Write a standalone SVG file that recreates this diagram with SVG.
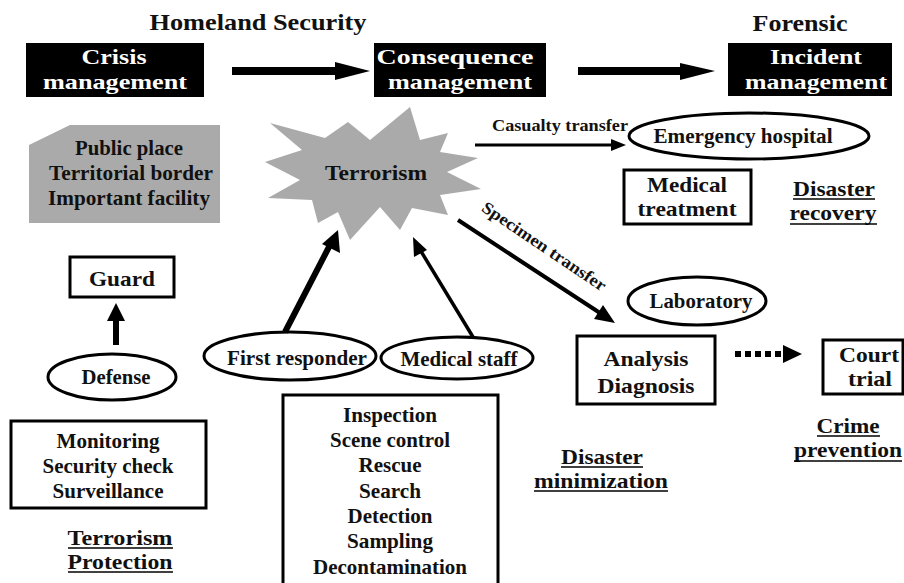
<svg xmlns="http://www.w3.org/2000/svg" width="904" height="583" viewBox="0 0 904 583">
<style>
text{font-family:"Liberation Serif","Times New Roman",serif;font-weight:bold;fill:#111;text-anchor:middle}
.w{fill:#fff}
.blk{fill:#000}
.box{fill:#fff;stroke:#000;stroke-width:3}
.ell{fill:#fff;stroke:#000;stroke-width:3}
.gray{fill:#aaaaaa}
.ul{stroke:#000;stroke-width:1.6}
.ln{stroke:#000;fill:none}
.big{font-size:22px}
.t21{font-size:21px}
.t22{font-size:22px}
.t18{font-size:17px}
</style>
<rect width="904" height="583" fill="#fff"/>

<text x="258" y="30" font-size="24" textLength="217" lengthAdjust="spacingAndGlyphs">Homeland Security</text>
<text x="800" y="31" font-size="24" textLength="95" lengthAdjust="spacingAndGlyphs">Forensic</text>

<g id="crisis">
<rect class="blk" x="26" y="43" width="178" height="54"/>
<text class="w big" x="114" y="64" textLength="65" lengthAdjust="spacingAndGlyphs">Crisis</text>
<text class="w big" x="115" y="89" textLength="144" lengthAdjust="spacingAndGlyphs">management</text>
</g>
<g id="consequence">
<rect class="blk" x="374" y="43" width="172" height="54"/>
<text class="w big" x="455" y="64" textLength="157" lengthAdjust="spacingAndGlyphs">Consequence</text>
<text class="w big" x="460" y="89" textLength="144" lengthAdjust="spacingAndGlyphs">management</text>
</g>
<g id="incident">
<rect class="blk" x="728" y="43" width="164" height="53"/>
<text class="w big" x="816" y="64" textLength="92" lengthAdjust="spacingAndGlyphs">Incident</text>
<text class="w big" x="816" y="89" textLength="142" lengthAdjust="spacingAndGlyphs">management</text>
</g>

<g id="places">
<polygon class="gray" points="29,145 70,125 220,125 220,223 29,223"/>
<text class="t22" x="129" y="155" textLength="108" lengthAdjust="spacingAndGlyphs">Public place</text>
<text class="t22" x="131" y="180" textLength="164" lengthAdjust="spacingAndGlyphs">Territorial border</text>
<text class="t22" x="129" y="205" textLength="162" lengthAdjust="spacingAndGlyphs">Important facility</text>
</g>

<g id="terrorism">
<polygon class="gray" points="410,107 420,140 448,133 440,152 478,158 447,172 481,189 440,195 448,215 412,208 400,230 380,207 350,240 338,212 318,223 312,200 268,198 300,180 265,162 302,150 270,123 325,138 348,122 370,140"/>
<text class="t22" x="376" y="180" textLength="102" lengthAdjust="spacingAndGlyphs">Terrorism</text>
</g>

<g id="hospital">
<ellipse class="ell" cx="749" cy="136" rx="120" ry="23"/>
<text class="t21" x="743" y="143" textLength="179" lengthAdjust="spacingAndGlyphs">Emergency hospital</text>
</g>
<g id="medtreat">
<rect class="box" x="624" y="170" width="127" height="54"/>
<text class="t21" x="687" y="192" textLength="80" lengthAdjust="spacingAndGlyphs">Medical</text>
<text class="t21" x="687" y="216" textLength="99" lengthAdjust="spacingAndGlyphs">treatment</text>
</g>
<g id="recovery">
<text class="t21" x="834" y="196" textLength="82" lengthAdjust="spacingAndGlyphs">Disaster</text>
<line class="ul" x1="793" y1="199" x2="875" y2="199"/>
<text class="t21" x="833" y="220" textLength="87" lengthAdjust="spacingAndGlyphs">recovery</text>
<line class="ul" x1="790" y1="224" x2="877" y2="224"/>
</g>

<g id="guard">
<rect class="box" x="70" y="257" width="104" height="40"/>
<text class="t22" x="122" y="286" textLength="66" lengthAdjust="spacingAndGlyphs">Guard</text>
</g>
<g id="defense">
<ellipse class="ell" cx="112" cy="377" rx="64" ry="23"/>
<text class="t21" x="116" y="384" textLength="69" lengthAdjust="spacingAndGlyphs">Defense</text>
</g>
<g id="monitoring">
<rect class="box" x="11" y="421" width="195" height="87"/>
<text class="t22" x="108" y="448" textLength="103" lengthAdjust="spacingAndGlyphs">Monitoring</text>
<text class="t22" x="108" y="473" textLength="131" lengthAdjust="spacingAndGlyphs">Security check</text>
<text class="t22" x="108" y="498" textLength="111" lengthAdjust="spacingAndGlyphs">Surveillance</text>
</g>
<g id="protection">
<text class="t21" x="120" y="545" textLength="105" lengthAdjust="spacingAndGlyphs">Terrorism</text>
<line class="ul" x1="68" y1="548" x2="173" y2="548"/>
<text class="t21" x="120" y="569" textLength="105" lengthAdjust="spacingAndGlyphs">Protection</text>
<line class="ul" x1="68" y1="572" x2="173" y2="572"/>
</g>

<g id="firstresponder">
<ellipse class="ell" cx="290" cy="356" rx="86" ry="24"/>
<text class="t21" x="297" y="365" textLength="140" lengthAdjust="spacingAndGlyphs">First responder</text>
</g>
<g id="medstaff">
<ellipse class="ell" cx="457" cy="358" rx="76" ry="21"/>
<text class="t21" x="459" y="366" textLength="117" lengthAdjust="spacingAndGlyphs">Medical staff</text>
</g>
<g id="tasks">
<rect class="box" x="283" y="395" width="215" height="200"/>
<text class="t21" x="390" y="422" textLength="94" lengthAdjust="spacingAndGlyphs">Inspection</text>
<text class="t21" x="390" y="447" textLength="120" lengthAdjust="spacingAndGlyphs">Scene control</text>
<text class="t21" x="390" y="472" textLength="63" lengthAdjust="spacingAndGlyphs">Rescue</text>
<text class="t21" x="390" y="498" textLength="62" lengthAdjust="spacingAndGlyphs">Search</text>
<text class="t21" x="390" y="523" textLength="85" lengthAdjust="spacingAndGlyphs">Detection</text>
<text class="t21" x="390" y="548" textLength="86" lengthAdjust="spacingAndGlyphs">Sampling</text>
<text class="t21" x="390" y="574" textLength="154" lengthAdjust="spacingAndGlyphs">Decontamination</text>
</g>

<g id="laboratory">
<ellipse class="ell" cx="697" cy="301" rx="69" ry="24"/>
<text class="t21" x="701" y="308" textLength="103" lengthAdjust="spacingAndGlyphs">Laboratory</text>
</g>
<g id="analysis">
<rect class="box" x="577" y="336" width="138" height="68"/>
<text class="t22" x="646" y="366" textLength="85" lengthAdjust="spacingAndGlyphs">Analysis</text>
<text class="t22" x="646" y="393" textLength="97" lengthAdjust="spacingAndGlyphs">Diagnosis</text>
</g>
<g id="court">
<rect class="box" x="823" y="340" width="80" height="54"/>
<text class="t21" x="869" y="362" textLength="60" lengthAdjust="spacingAndGlyphs">Court</text>
<text class="t21" x="870" y="386" textLength="44" lengthAdjust="spacingAndGlyphs">trial</text>
</g>
<g id="crime">
<text class="t21" x="848" y="433" textLength="63" lengthAdjust="spacingAndGlyphs">Crime</text>
<line class="ul" x1="817" y1="436" x2="880" y2="436"/>
<text class="t21" x="848" y="457" textLength="108" lengthAdjust="spacingAndGlyphs">prevention</text>
<line class="ul" x1="794" y1="461" x2="902" y2="461"/>
</g>
<g id="minimization">
<text class="t21" x="602" y="464" textLength="82" lengthAdjust="spacingAndGlyphs">Disaster</text>
<line class="ul" x1="561" y1="467" x2="643" y2="467"/>
<text class="t21" x="601" y="488" textLength="134" lengthAdjust="spacingAndGlyphs">minimization</text>
<line class="ul" x1="534" y1="491" x2="668" y2="491"/>
</g>

<g id="connectors">
<polygon class="blk" points="232,67 335,67 335,62 370,71 335,80 335,75 232,75"/>
<polygon class="blk" points="578,67 680,67 680,63 715,71 680,80 680,75 578,75"/>
<line class="ln" x1="475" y1="145" x2="614" y2="145" stroke-width="3"/>
<polygon class="blk" points="611,139 626,145 611,151"/>
<text class="t18" x="560" y="131" textLength="136" lengthAdjust="spacingAndGlyphs">Casualty transfer</text>
<line class="ln" x1="458" y1="220" x2="600" y2="313" stroke-width="4"/>
<polygon class="blk" points="615,323 594,319 603,305"/>
<text class="t18" x="541" y="251" textLength="146" lengthAdjust="spacingAndGlyphs" transform="rotate(34 541 251)">Specimen transfer</text>
<line class="ln" x1="285" y1="332" x2="330" y2="245" stroke-width="6"/>
<polygon class="blk" points="338,230 340,253 322,244"/>
<line class="ln" x1="473" y1="337" x2="419" y2="248" stroke-width="3.5"/>
<polygon class="blk" points="413,237 427,250 414,257"/>
<polygon class="blk" points="113,345 113,321 107,321 116,303 125,321 119,321 119,345"/>
<line class="ln" x1="735" y1="354" x2="784" y2="354" stroke-width="6" stroke-dasharray="6 4"/>
<polygon class="blk" points="783,345 802,354 783,363"/>
</g>
</svg>
